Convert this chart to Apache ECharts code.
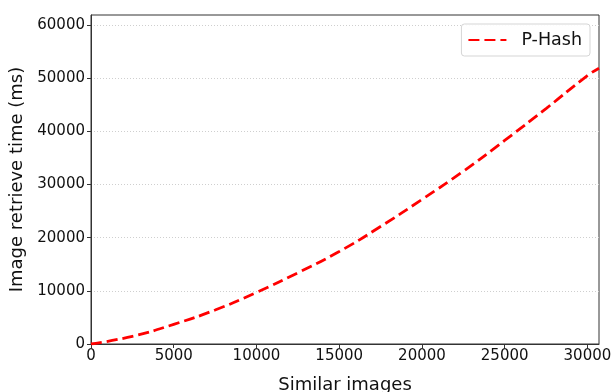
<!DOCTYPE html>
<html>
<head>
<meta charset="utf-8">
<script src="https://cdn.jsdelivr.net/npm/echarts@6/dist/echarts.min.js"></script>
<style>
html,body{margin:0;padding:0;background:#fff;}
#chart{width:613px;height:392px;}
</style>
</head>
<body>
<div id="chart"></div>
<script>
const xValues = [0, 2500, 5000, 7500, 10000, 12500, 15000, 17500, 20000, 22500, 25000, 27500, 30000, 30700];
const pHash   = [0, 1450, 3700, 6400, 9700, 13400, 17400, 22100, 27200, 32500, 38300, 44300, 50500, 51900];
const xTicks = [0, 5000, 10000, 15000, 20000, 25000, 30000];
const yTicks = [0, 10000, 20000, 30000, 40000, 50000, 60000];
const seriesName = 'P-Hash';

const chart = echarts.init(document.getElementById('chart'), null, {renderer: 'canvas'});
const font = 'DejaVu Sans';
chart.setOption({
  animation: false,
  backgroundColor: '#fff',
  grid: {left: 91, right: 14, top: 15, bottom: 48, show: true, borderColor: '#333', borderWidth: 1,
         backgroundColor: 'transparent', containLabel: false, outerBoundsMode: 'none'},
  legend: {
    right: 23, top: 24,
    data: [seriesName],
    itemWidth: 38, itemHeight: 14,
    padding: [7, 8, 7, 6],
    borderColor: '#d5d5d5', borderWidth: 1, borderRadius: 3,
    backgroundColor: 'rgba(255,255,255,0.9)',
    itemStyle: {opacity: 0},
    textStyle: {fontFamily: font, fontSize: 17.5, color: '#111', padding: [0, 0, 0, 10]}
  },
  xAxis: {
    type: 'value', min: 0, max: 30700, interval: 5000,
    name: 'Similar images', nameLocation: 'middle', nameGap: 32,
    nameTextStyle: {fontFamily: font, fontSize: 18, color: '#111'},
    axisLine: {show: true, onZero: false, lineStyle: {color: '#333', width: 1}},
    axisTick: {show: true, length: 4, lineStyle: {color: '#333'}, customValues: xTicks},
    axisLabel: {fontFamily: font, fontSize: 15, color: '#111', margin: 5, customValues: xTicks,
                formatter: v => String(v)},
    splitLine: {show: false}
  },
  yAxis: {
    type: 'value', min: 0, max: 61900, interval: 10000,
    name: 'Image retrieve time (ms)', nameLocation: 'middle', nameGap: 65,
    nameTextStyle: {fontFamily: font, fontSize: 18, color: '#111'},
    axisLine: {show: true, lineStyle: {color: '#333', width: 1}},
    axisTick: {show: true, length: 4, lineStyle: {color: '#333'}, customValues: yTicks},
    axisLabel: {fontFamily: font, fontSize: 15, color: '#111', margin: 6, customValues: yTicks,
                formatter: v => String(v)},
    splitLine: {show: true, lineStyle: {color: '#cfcfcf', type: [1, 2], width: 1}}
  },
  series: [{
    name: seriesName,
    type: 'line',
    data: xValues.map((x, i) => [x, pHash[i]]),
    smooth: true,
    symbol: 'none',
    clip: true,
    lineStyle: {color: '#ff0000', width: 2.8, type: [11, 5]},
    itemStyle: {color: '#ff0000'}
  }]
});
</script>
</body>
</html>
